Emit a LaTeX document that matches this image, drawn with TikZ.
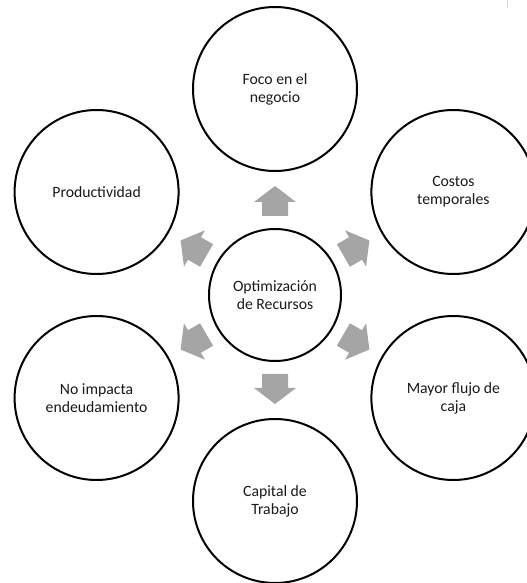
\documentclass[tikz,border=0pt]{standalone}
\usepackage{fontspec}
\setmainfont{Carlito}
\usetikzlibrary{calc}
\definecolor{arrowgray}{HTML}{A5A5A5}
\definecolor{edgegray}{HTML}{D9D9D9}
\definecolor{textdark}{HTML}{1A1A1A}
\begin{document}
\begin{tikzpicture}[x=0.75pt,y=0.75pt,
  outer/.style={circle,draw=black,line width=1.5pt,fill=white,minimum size=123pt,inner sep=0pt,align=center,text=textdark,font=\fontsize{11.8pt}{13.6pt}\selectfont},
  inner/.style={circle,draw=black,line width=1.5pt,fill=white,minimum size=99pt,inner sep=0pt,align=center,text=textdark,font=\fontsize{11.8pt}{13.4pt}\selectfont},
  blockarrow/.style={fill=arrowgray,draw=none}]
\useasboundingbox (0,0) rectangle (527,583);
\clip (0,0) rectangle (527,583);
\node[inner] (c) at (275,288) {Optimización\\de Recursos};
\node[outer] (n1) at ($(275,288)+(90:206)$) {Foco en el\\negocio};
\node[outer] (n2) at ($(275,288)+(30:206)$) {Costos\\temporales};
\node[outer] (n3) at ($(275,288)+(-30:206)$) {Mayor flujo de\\caja};
\node[outer] (n4) at ($(275,288)+(-90:206)$) {Capital de\\Trabajo};
\node[outer] (n5) at ($(275,288)+(210:206)$) {No impacta\\endeudamiento};
\node[outer] (n6) at ($(275,288)+(150:206)$) {Productividad};
\foreach \a in {90,30,-30,-90,210,150}{
  \begin{scope}[shift={(c.center)},rotate=\a]
    \fill[blockarrow] (79,-13) -- (93,-13) -- (93,-21) -- (109,0) -- (93,21) -- (93,13) -- (79,13) -- cycle;
  \end{scope}
}
\draw[edgegray,line width=0.75pt] (507.5,583) -- (507.5,575);
\end{tikzpicture}
\end{document}
